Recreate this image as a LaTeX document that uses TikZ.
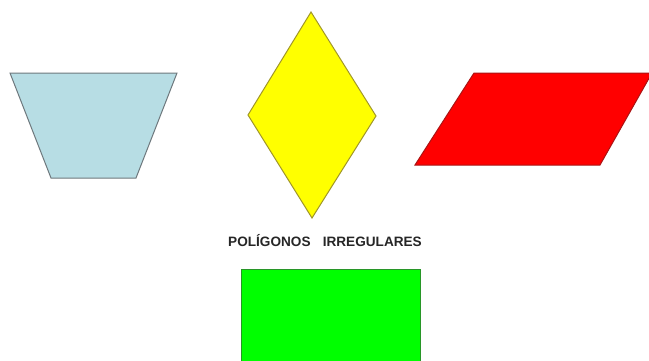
\documentclass[tikz,border=0pt]{standalone}
\usepackage{fontspec}
\setmainfont{Liberation Sans}
\definecolor{lblue}{RGB}{183,221,228}
\definecolor{pyellow}{RGB}{255,255,0}
\definecolor{trapedge}{RGB}{110,120,125}
\definecolor{rhomedge}{RGB}{160,150,40}
\definecolor{paredge}{RGB}{170,20,20}
\definecolor{recedge}{RGB}{40,150,40}
\begin{document}
\begin{tikzpicture}[x=1pt,y=-1pt,
  polyshape/.style={line width=1pt, line join=miter}]
\useasboundingbox[fill=white] (0,0) rectangle (649,360);
% trapezoid
\draw[polyshape, fill=lblue, draw=trapedge] (10,73) -- (177,73) -- (136,178) -- (51,178) -- cycle;
% rhombus
\draw[polyshape, fill=pyellow, draw=rhomedge] (311,12) -- (376,116) -- (312,218) -- (248,115) -- cycle;
% parallelogram
\draw[polyshape, fill=red, draw=paredge] (474,73) -- (652,73) -- (600,165) -- (415,165) -- cycle;
% rectangle
\draw[polyshape, fill=green, draw=recedge] (241,269) -- (420,269) -- (420,362) -- (241,362) -- cycle;
\node[font=\bfseries\fontsize{13.6}{15}\selectfont, text=black!85, inner sep=0pt] (title) at (325,241) {POLÍGONOS\hspace{0.9em}IRREGULARES};
\end{tikzpicture}
\end{document}
